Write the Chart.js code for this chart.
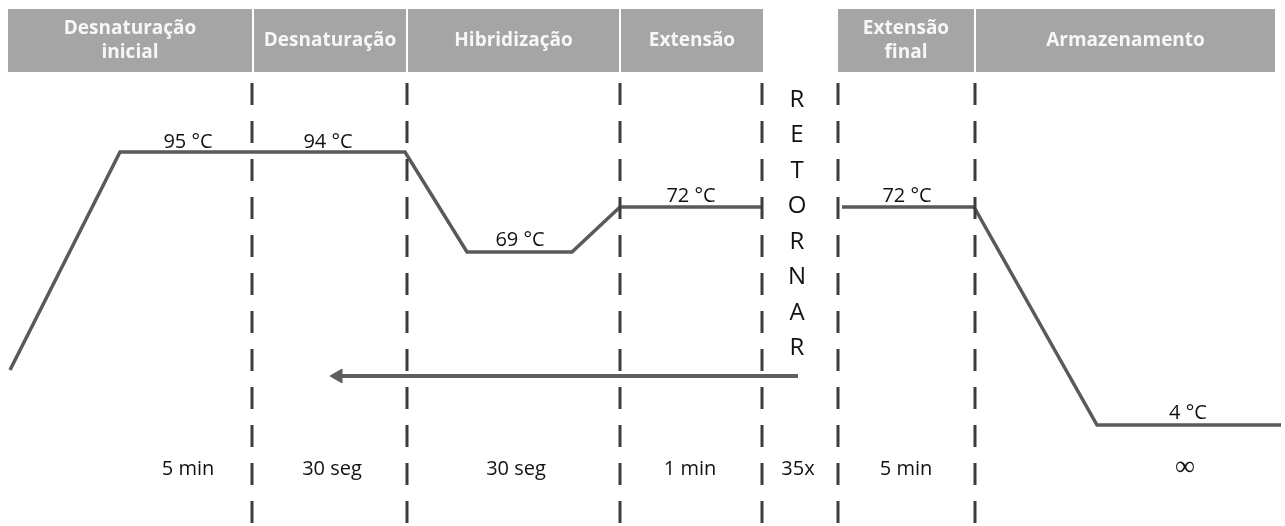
<!DOCTYPE html>
<html>
<head>
<meta charset="utf-8">
<script src="https://cdn.jsdelivr.net/npm/chart.js@4.4.0/dist/chart.umd.min.js"></script>
<style>
body{margin:0;background:#fff;}
#pcr{display:block;}
</style>
</head>
<body>
<canvas id="pcr" width="1285" height="526"></canvas>
<script>
// perfil de temperatura (esquematico): tempo x altura do nivel
const perfilX = [10, 120, 405, 467, 572, 620, 762, 800, 842, 974, 1097, 1281];
const perfilY = [156, 374, 374, 274, 274, 319, 319, null, 319, 319, 101, 101];

// cabecalhos das etapas
const cabecalhos = ['Desnaturação\ninicial', 'Desnaturação', 'Hibridização', 'Extensão', 'Extensão\nfinal', 'Armazenamento'];
const cabIni = [8, 254, 408, 621, 838, 976];
const cabFim = [252, 406, 619, 763, 974, 1275];

// duracoes
const duracoes = ['5 min', '30 seg', '30 seg', '1 min', '35x', '5 min', '∞'];
const duracoesX = [188, 332, 516, 690, 798, 906, 1185];

// linhas tracejadas
const divisorias = [252, 407, 620, 762, 838, 975];

// temperaturas
const temps = ['95 °C', '94 °C', '69 °C', '72 °C', '72 °C', '4 °C'];
const tempsX = [188, 328, 520, 691, 907, 1188];
const tempsY = [384, 384, 286, 330, 330, 113];

// seta de retorno
const retornoX = [338, 798];
const retornoY = [150, 150];
const retornoTexto = 'RETORNAR';

function pontos(xs, ys){
    return xs.map((x, i) => ({x: x, y: ys[i]}));
}

let datasets = [];
divisorias.forEach(d => {
    datasets.push({
        data: [{x: d, y: 443}, {x: d, y: 0}],
        borderColor: '#3c3c3c',
        borderWidth: 3,
        borderDash: [22, 16],
        pointRadius: 0,
    });
});
datasets.push({
    data: pontos(perfilX, perfilY),
    borderColor: '#5a5a5a',
    borderWidth: 3.5,
    pointRadius: 0,
    spanGaps: false,
});
datasets.push({
    data: pontos(retornoX, retornoY),
    borderColor: '#5e5e5e',
    backgroundColor: '#5e5e5e',
    borderWidth: 4,
    pointStyle: 'triangle',
    pointRotation: 270,
    pointRadius: [8, 0],
    pointBorderWidth: 1,
});

const textos = {
    id: 'textos',
    afterDraw(chart){
        const ctx = chart.ctx;
        const xs = chart.scales.x, ys = chart.scales.y;
        ctx.save();
        // cabecalhos
        cabecalhos.forEach((c, i) => {
            const x0 = xs.getPixelForValue(cabIni[i]);
            const x1 = xs.getPixelForValue(cabFim[i]);
            const y0 = ys.getPixelForValue(517);
            const y1 = ys.getPixelForValue(454);
            ctx.fillStyle = '#a5a5a5';
            ctx.fillRect(x0, y0, x1 - x0, y1 - y0);
            ctx.fillStyle = '#f7f7f7';
            ctx.font = 'bold 19px "Open Sans"';
            ctx.textAlign = 'center';
            ctx.textBaseline = 'middle';
            const linhas = c.split('\n');
            const cx = (x0 + x1) / 2;
            if(linhas.length == 1){
                ctx.fillText(linhas[0], cx, (y0 + y1) / 2);
            } else{
                ctx.fillText(linhas[0], cx, y0 + 20);
                ctx.fillText(linhas[1], cx, y0 + 44);
            }
        });
        // temperaturas
        ctx.fillStyle = '#111';
        ctx.font = '20px "Open Sans"';
        temps.forEach((t, i) => {
            ctx.fillText(t, xs.getPixelForValue(tempsX[i]), ys.getPixelForValue(tempsY[i]));
        });
        // duracoes
        duracoes.forEach((d, i) => {
            ctx.font = d == '∞' ? '200 28px "DejaVu Sans"' : '20px "Open Sans"';
            ctx.fillText(d, xs.getPixelForValue(duracoesX[i]), ys.getPixelForValue(d == '∞' ? 58 : 57));
        });
        // RETORNAR na vertical
        ctx.font = '24px "Open Sans"';
        retornoTexto.split('').forEach((l, i) => {
            ctx.fillText(l, xs.getPixelForValue(797), ys.getPixelForValue(426 - i * 35.5));
        });
        ctx.restore();
    }
};

new Chart(document.getElementById('pcr'), {
    type: 'line',
    data: {datasets: datasets},
    options: {
        responsive: false,
        animation: false,
        layout: {padding: 0, autoPadding: false},
        elements: {line: {tension: 0, borderCapStyle: 'butt'}},
        plugins: {legend: {display: false}, tooltip: {enabled: false}},
        scales: {
            x: {type: 'linear', min: 0, max: 1285, display: false},
            y: {type: 'linear', min: 0, max: 526, display: false},
        },
    },
    plugins: [textos],
});
</script>
</body>
</html>
